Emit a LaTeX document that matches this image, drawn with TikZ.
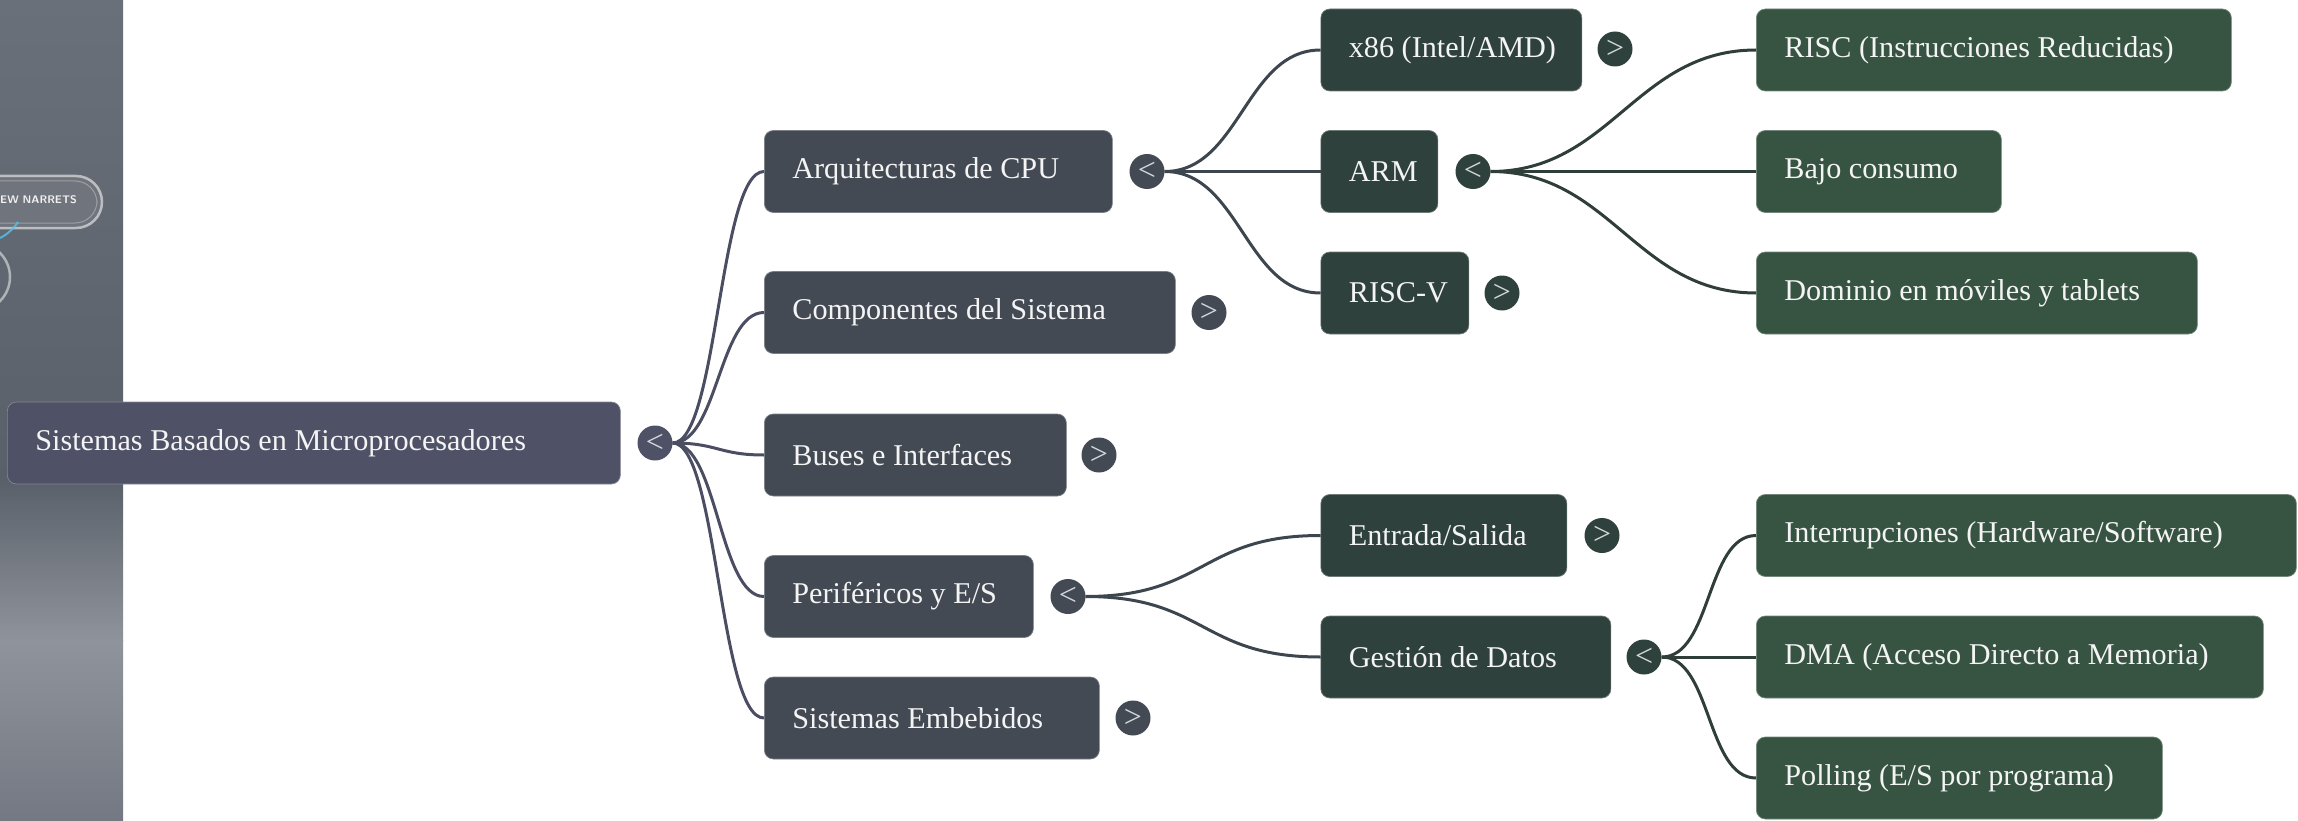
\documentclass[tikz,border=0pt]{standalone}
\usepackage{fontspec}
\setmainfont{Liberation Serif}
\definecolor{rootc}{HTML}{4F5167}
\definecolor{lvA}{HTML}{434A54}
\definecolor{lvB}{HTML}{2F413C}
\definecolor{lvC}{HTML}{375442}
\definecolor{edgeR}{HTML}{4B4E62}
\definecolor{edgeA}{HTML}{3D454F}
\definecolor{edgeB}{HTML}{2F3E39}
\definecolor{txt}{HTML}{F4F4F4}
\definecolor{chev}{HTML}{D5D9DE}
\definecolor{stripA}{HTML}{6A7079}
\definecolor{stripB}{HTML}{5A6069}
\definecolor{stripC}{HTML}{8F949C}
\definecolor{stripD}{HTML}{737882}
\newcommand{\lblbox}[2]{\makebox[#1][l]{#2}}
\begin{document}
\begin{tikzpicture}[x=1pt,y=-1pt,
  box/.style={rectangle, rounded corners=9pt, minimum height=82pt, anchor=west,
    inner xsep=28pt, inner ysep=0pt, text=txt,
    font=\fontsize{30.2}{36}\selectfont, fill=#1, draw=#1!70!white, line width=0.7pt},
  circ/.style={circle, minimum size=35pt, inner sep=0pt, fill=#1, text=chev,
    font=\fontsize{32}{32}\selectfont},
  link/.style={line width=3pt, draw=#1},
]
\useasboundingbox (0,0) rectangle (2298,821);
% left decorative strip
\begin{scope}
\clip (0,0) rectangle (123,821);
\shade[top color=stripA, bottom color=stripB] (0,0) rectangle (123,481);
\shade[top color=stripB, bottom color=stripC] (0,480) rectangle (123,641);
\shade[top color=stripC, bottom color=stripD] (0,640) rectangle (123,821);
\draw[white, opacity=.55, line width=2.5pt, rounded corners=26pt, fill=white, fill opacity=.08]
  (-40,176) rectangle (102,228);
\draw[white, opacity=.3, line width=1pt, rounded corners=22pt] (-40,181) rectangle (97,223);
\node[anchor=west, inner sep=0pt, text=white!88!gray, font=\sffamily\bfseries\fontsize{11}{13}\selectfont] (pill) at (0,200) {EW NARRETS};
\draw[white, opacity=.5, line width=2.5pt] (-24,277) circle (34pt);
\draw[cyan!70!white, opacity=.8, line width=2pt] (0,238) .. controls (8,234) and (14,228) .. (18,222);
\end{scope}

% nodes
\node[box=rootc] (root) at (7,443) {\lblbox{557pt}{Sistemas Basados en Microprocesadores}};
\node[circ=rootc] (c0) at (655,443) {<};

\node[box=lvA] (arq) at (764,171.5) {\lblbox{292pt}{Arquitecturas de CPU}};
\node[box=lvA] (comp) at (764,312.5) {\lblbox{355pt}{Componentes del Sistema}};
\node[box=lvA] (bus) at (764,455) {\lblbox{246pt}{Buses e Interfaces}};
\node[box=lvA] (per) at (764,596.5) {\lblbox{213pt}{Periféricos y E/S}};
\node[box=lvA] (emb) at (764,718) {\lblbox{279pt}{Sistemas Embebidos}};
\node[circ=lvA] (carq) at (1147,171.5) {<};
\node[circ=lvA] (ccomp) at (1209,312.5) {>};
\node[circ=lvA] (cbus) at (1099,455) {>};
\node[circ=lvA] (cper) at (1068,596.5) {<};
\node[circ=lvA] (cemb) at (1133,718) {>};

\node[box=lvB] (x86) at (1320.5,50) {\lblbox{205pt}{x86 (Intel/AMD)}};
\node[box=lvB] (arm) at (1320.5,171.5) {\lblbox{61pt}{ARM}};
\node[box=lvB] (rv) at (1320.5,293) {\lblbox{92pt}{RISC-V}};
\node[box=lvB] (es) at (1320.5,535.5) {\lblbox{190pt}{Entrada/Salida}};
\node[box=lvB] (gd) at (1320.5,657) {\lblbox{234pt}{Gestión de Datos}};
\node[circ=lvB] (cx86) at (1615,49) {>};
\node[circ=lvB] (carm) at (1473,171.5) {<};
\node[circ=lvB] (crv) at (1502,293) {>};
\node[circ=lvB] (ces) at (1602,535.5) {>};
\node[circ=lvB] (cgd) at (1644,657) {<};

\node[box=lvC] (risc) at (1756,50) {\lblbox{419pt}{RISC (Instrucciones Reducidas)}};
\node[box=lvC] (bajo) at (1756,171.5) {\lblbox{189pt}{Bajo consumo}};
\node[box=lvC] (dom) at (1756,293) {\lblbox{385pt}{Dominio en móviles y tablets}};
\node[box=lvC] (intr) at (1756,535.5) {\lblbox{484pt}{Interrupciones (Hardware/Software)}};
\node[box=lvC] (dma) at (1756,657) {\lblbox{451pt}{DMA (Acceso Directo a Memoria)}};
\node[box=lvC] (pol) at (1756,778) {\lblbox{350pt}{Polling (E/S por programa)}};

% connectors
\foreach \t in {arq,comp,bus,per,emb}
  \draw[link=edgeR] (c0.east) .. controls +(45,0) and +(-45,0) .. (\t.west);
\foreach \t in {x86,arm,rv}
  \draw[link=edgeA] (carq.east) .. controls +(75,0) and +(-75,0) .. (\t.west);
\foreach \t in {es,gd}
  \draw[link=edgeA] (cper.east) .. controls +(120,0) and +(-120,0) .. (\t.west);
\foreach \t in {risc,bajo,dom}
  \draw[link=edgeB] (carm.east) .. controls +(120,0) and +(-120,0) .. (\t.west);
\foreach \t in {intr,dma,pol}
  \draw[link=edgeB] (cgd.east) .. controls +(50,0) and +(-50,0) .. (\t.west);
\end{tikzpicture}
\end{document}
